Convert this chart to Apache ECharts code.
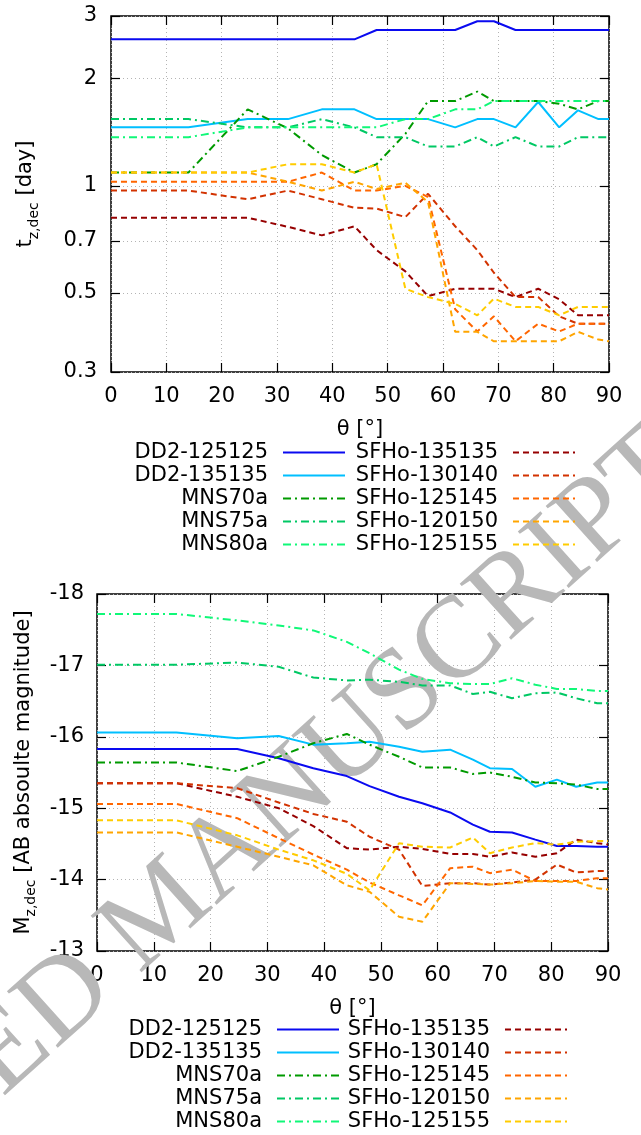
<!DOCTYPE html>
<html>
<head>
<meta charset="utf-8">
<script src="https://cdn.jsdelivr.net/npm/echarts@6/dist/echarts.min.js"></script>
<style>
  html, body { margin: 0; padding: 0; background: #fff; }
  #mainChart { width: 641px; height: 1135px; }
</style>
</head>
<body>
<div id="mainChart"></div>
<script>
// viewing angle of each point (deg)
var theta = [0, 14.0, 24.7, 32.0, 38.1, 44.0, 48.0, 53.2, 57.3, 62.2, 66.2, 69.2, 73.1, 77.2, 81.0, 84.4, 88.1, 90];

var names = ['DD2-125125', 'DD2-135135', 'MNS70a', 'MNS75a', 'MNS80a',
             'SFHo-135135', 'SFHo-130140', 'SFHo-125145', 'SFHo-120150', 'SFHo-125155'];

var tdecTicks = [0.3, 0.5, 0.7, 1, 2, 3];
var magTicks = [-18, -17, -16, -15, -14, -13];

// t_z,dec [day]
var tDD2_125125 = [2.58, 2.58, 2.58, 2.58, 2.58, 2.58, 2.74, 2.74, 2.74, 2.74, 2.90, 2.90, 2.74, 2.74, 2.74, 2.74, 2.74, 2.74];
var tDD2_135135 = [1.46, 1.46, 1.54, 1.54, 1.64, 1.64, 1.54, 1.54, 1.54, 1.46, 1.54, 1.54, 1.46, 1.72, 1.46, 1.63, 1.54, 1.54];
var tMNS70a = [1.09, 1.09, 1.64, 1.45, 1.22, 1.09, 1.15, 1.40, 1.73, 1.73, 1.84, 1.73, 1.73, 1.73, 1.70, 1.64, 1.73, 1.73];
var tMNS75a = [1.54, 1.54, 1.46, 1.46, 1.54, 1.46, 1.37, 1.37, 1.29, 1.29, 1.37, 1.29, 1.37, 1.29, 1.29, 1.37, 1.37, 1.37];
var tMNS80a = [1.37, 1.37, 1.46, 1.46, 1.46, 1.46, 1.46, 1.54, 1.54, 1.64, 1.64, 1.73, 1.73, 1.73, 1.73, 1.73, 1.73, 1.73];
var tSFHo_135135 = [0.814, 0.814, 0.814, 0.767, 0.726, 0.77, 0.66, 0.575, 0.49, 0.514, 0.514, 0.514, 0.487, 0.514, 0.48, 0.433, 0.433, 0.433];
var tSFHo_130140 = [0.97, 0.97, 0.917, 0.97, 0.917, 0.868, 0.863, 0.817, 0.95, 0.77, 0.66, 0.57, 0.487, 0.487, 0.43, 0.41, 0.41, 0.41];
var tSFHo_125145 = [1.027, 1.027, 1.027, 1.027, 1.09, 0.97, 0.97, 1.0, 0.93, 0.45, 0.39, 0.43, 0.366, 0.41, 0.39, 0.41, 0.41, 0.41];
var tSFHo_120150 = [1.09, 1.09, 1.09, 1.027, 0.97, 1.027, 0.98, 1.02, 0.90, 0.389, 0.389, 0.366, 0.366, 0.366, 0.366, 0.389, 0.37, 0.366];
var tSFHo_125155 = [1.09, 1.09, 1.09, 1.15, 1.15, 1.09, 1.15, 0.514, 0.487, 0.466, 0.433, 0.482, 0.457, 0.457, 0.433, 0.457, 0.457, 0.457];

// M_z,dec [AB mag]
var mDD2_125125 = [-15.83, -15.83, -15.83, -15.70, -15.56, -15.45, -15.31, -15.16, -15.07, -14.94, -14.77, -14.67, -14.66, -14.56, -14.47, -14.47, -14.46, -14.46];
var mDD2_135135 = [-16.06, -16.06, -15.98, -16.01, -15.89, -15.91, -15.93, -15.86, -15.79, -15.82, -15.68, -15.56, -15.55, -15.30, -15.40, -15.30, -15.36, -15.36];
var mMNS70a = [-15.64, -15.64, -15.52, -15.72, -15.91, -16.04, -15.89, -15.72, -15.57, -15.57, -15.48, -15.50, -15.44, -15.36, -15.35, -15.33, -15.27, -15.27];
var mMNS75a = [-17.01, -17.01, -17.04, -16.98, -16.83, -16.79, -16.80, -16.77, -16.72, -16.72, -16.60, -16.63, -16.54, -16.61, -16.62, -16.54, -16.47, -16.47];
var mMNS80a = [-17.72, -17.72, -17.63, -17.56, -17.49, -17.33, -17.17, -16.94, -16.81, -16.75, -16.74, -16.74, -16.82, -16.73, -16.67, -16.67, -16.64, -16.64];
var mSFHo_135135 = [-15.35, -15.35, -15.16, -15.0, -14.75, -14.44, -14.42, -14.46, -14.43, -14.36, -14.36, -14.32, -14.38, -14.32, -14.37, -14.56, -14.51, -14.49];
var mSFHo_130140 = [-15.35, -15.35, -15.28, -15.08, -14.92, -14.81, -14.60, -14.42, -13.91, -13.95, -13.95, -13.93, -13.96, -14.0, -14.21, -14.1, -14.12, -14.12];
var mSFHo_125145 = [-15.06, -15.06, -14.86, -14.58, -14.35, -14.14, -13.96, -13.78, -13.64, -14.16, -14.18, -14.09, -14.14, -13.98, -13.98, -13.98, -14.02, -14.02];
var mSFHo_120150 = [-14.66, -14.66, -14.46, -14.32, -14.2, -13.92, -13.83, -13.48, -13.41, -13.95, -13.94, -13.93, -13.95, -13.98, -13.97, -13.97, -13.88, -13.86];
var mSFHo_125155 = [-14.83, -14.83, -14.62, -14.42, -14.27, -14.08, -13.85, -14.51, -14.46, -14.45, -14.59, -14.37, -14.45, -14.51, -14.49, -14.53, -14.54, -14.54];

var tRows = [tDD2_125125, tDD2_135135, tMNS70a, tMNS75a, tMNS80a, tSFHo_135135, tSFHo_130140, tSFHo_125145, tSFHo_120150, tSFHo_125155];
var mRows = [mDD2_125125, mDD2_135135, mMNS70a, mMNS75a, mMNS80a, mSFHo_135135, mSFHo_130140, mSFHo_125145, mSFHo_120150, mSFHo_125155];

var colors = ['#0a0af0', '#00bfff', '#009a00', '#00c864', '#10f878',
              '#960000', '#d23200', '#ff6600', '#ffa500', '#ffcc00'];
var dashed = [6, 4];
var dashDot = [8, 4, 2, 4];
var styles = ['solid', 'solid', dashDot, dashDot, dashDot, dashed, dashed, dashed, dashed, dashed];

var FONT = 'DejaVu Sans';
var FS = 21;

var chart = echarts.init(document.getElementById('mainChart'), null, { renderer: 'canvas' });

var series = [];
names.forEach(function (nm, i) {
  series.push({
    name: nm, type: 'line', xAxisIndex: 0, yAxisIndex: 0,
    symbol: 'none', animation: false, silent: true,
    data: theta.map(function (t, k) { return [t, Math.log10(tRows[i][k])]; }),
    lineStyle: { color: colors[i], width: 2, type: styles[i] },
    itemStyle: { color: colors[i] }
  });
});
names.forEach(function (nm, i) {
  series.push({
    name: nm, type: 'line', xAxisIndex: 2, yAxisIndex: 2,
    symbol: 'none', animation: false, silent: true,
    data: theta.map(function (t, k) { return [t, mRows[i][k]]; }),
    lineStyle: { color: colors[i], width: 2, type: styles[i] },
    itemStyle: { color: colors[i] }
  });
});

var tick = { show: true, inside: true, length: 9, lineStyle: { color: '#000', width: 1.2 } };
var dots = { color: '#b4b4b4', width: 1, type: [1, 3] };
var noLine = { show: false, onZero: false };

function xAx(gi, main) {
  return {
    type: 'value', gridIndex: gi, min: 0, max: 90, interval: 10,
    position: main ? 'bottom' : 'top',
    name: main ? 'θ [°]' : '', nameLocation: 'middle', nameGap: 47,
    nameTextStyle: { color: '#000', fontFamily: FONT, fontSize: FS },
    axisLine: noLine,
    axisTick: tick,
    axisLabel: main ? { color: '#000', fontFamily: FONT, fontSize: FS, margin: 14 } : { show: false },
    splitLine: main ? { show: true, lineStyle: dots } : { show: false }
  };
}

var tLog = tdecTicks.map(function (v) { return Math.log10(v); });

function tAx(main) {
  return {
    type: 'value', gridIndex: 0, min: tLog[0], max: tLog[tLog.length - 1],
    position: main ? 'left' : 'right',
    name: main ? '{a|t}{b|z,dec}{a| [day]}' : '',
    nameLocation: 'middle', nameGap: 70,
    nameTextStyle: { color: '#000', fontFamily: FONT, fontSize: FS,
      rich: { a: { fontFamily: FONT, fontSize: FS, lineHeight: 30, color: '#000' },
              b: { fontFamily: FONT, fontSize: 14, verticalAlign: 'bottom', color: '#000' } } },
    axisLine: noLine,
    axisTick: Object.assign({ customValues: tLog }, tick),
    axisLabel: main ? { customValues: tLog, color: '#000', fontFamily: FONT, fontSize: FS, margin: 14,
      formatter: function (v) { return String(Math.round(Math.pow(10, v) * 10) / 10); } } : { show: false },
    splitLine: main ? { show: true, lineStyle: dots } : { show: false }
  };
}

function mAx(main) {
  return {
    type: 'value', gridIndex: 1, min: magTicks[0], max: magTicks[magTicks.length - 1], interval: 1,
    inverse: true, position: main ? 'left' : 'right',
    name: main ? '{a|M}{b|z,dec}{a| [AB absoulte magnitude]}' : '',
    nameLocation: 'middle', nameGap: 54,
    nameTextStyle: { color: '#000', fontFamily: FONT, fontSize: FS,
      rich: { a: { fontFamily: FONT, fontSize: FS, lineHeight: 30, color: '#000' },
              b: { fontFamily: FONT, fontSize: 14, verticalAlign: 'bottom', color: '#000' } } },
    axisLine: noLine,
    axisTick: tick,
    axisLabel: main ? { color: '#000', fontFamily: FONT, fontSize: FS, margin: 13 } : { show: false },
    splitLine: main ? { show: true, lineStyle: dots } : { show: false }
  };
}

function legendBlock(list, top, right) {
  return {
    data: list, top: top, right: right, orient: 'vertical', align: 'right',
    itemWidth: 62, itemHeight: 14, itemGap: 0, padding: 0,
    selectedMode: false,
    itemStyle: { opacity: 0 },
    textStyle: { color: '#000', fontFamily: FONT, fontSize: FS, lineHeight: 23, padding: [0, 10, 0, 0] }
  };
}

var option = {
  backgroundColor: '#fff',
  animation: false,
  grid: [
    { left: 111, top: 16, width: 498, height: 356, show: true, borderColor: '#000', borderWidth: 1.5, outerBoundsMode: 'none' },
    { left: 97, top: 594, width: 511, height: 357, show: true, borderColor: '#000', borderWidth: 1.5, outerBoundsMode: 'none' }
  ],
  xAxis: [xAx(0, true), xAx(0, false), xAx(1, true), xAx(1, false)],
  yAxis: [tAx(true), tAx(false), mAx(true), mAx(false)],
  legend: [
    legendBlock(names.slice(0, 5), 441, 295),
    legendBlock(names.slice(5), 441, 65),
    legendBlock(names.slice(0, 5), 1018, 301),
    legendBlock(names.slice(5), 1018, 73)
  ],
  graphic: [{
    type: 'text', x: 163, y: 912, rotation: 0.733, z: 1, silent: true,
    style: { text: 'ACCEPTED MANUSCRIPT', font: '116px "Liberation Serif"', fill: '#b8b8b8',
             align: 'center', verticalAlign: 'middle' }
  }],
  series: series
};

chart.setOption(option);
</script>
</body>
</html>
